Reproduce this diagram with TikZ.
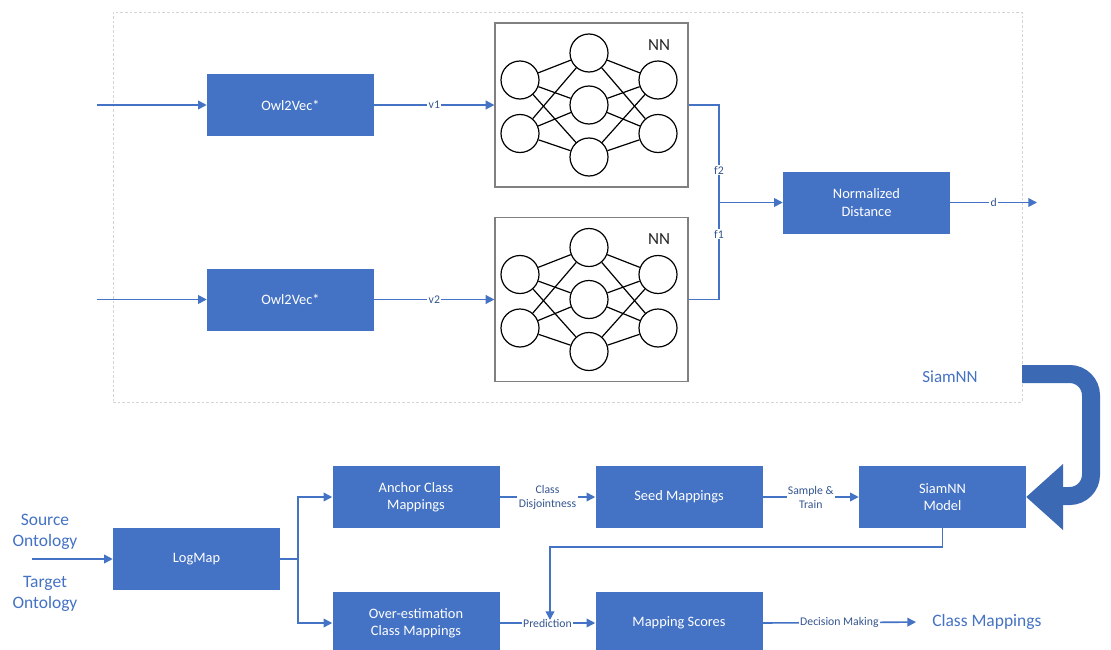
\documentclass[tikz,border=0pt]{standalone}
\usepackage{fontspec}
\setmainfont{Carlito}
\usetikzlibrary{arrows.meta,calc}

\definecolor{boxblue}{HTML}{4472C4}
\definecolor{linkblue}{HTML}{4472C4}
\definecolor{labelblue}{HTML}{34558F}
\definecolor{uturnblue}{HTML}{3C69B4}
\definecolor{framegray}{HTML}{D4D4D4}

\tikzset{
  procbox/.style={fill=boxblue, draw=none, text=white, minimum width=125.25pt,
    minimum height=46.5pt, inner sep=0pt, align=center,
    font=\fontsize{10.8}{13}\selectfont},
  link/.style={draw=linkblue, line width=1.2pt, -{Triangle[length=6.5pt,width=6.5pt]}},
  plainlink/.style={draw=linkblue, line width=1.2pt},
  linklabel/.style={fill=white, text=labelblue, inner xsep=1pt, inner ysep=0.5pt,
    align=center, font=\fontsize{8.8}{10.5}\selectfont},
  nnbox/.style={draw=black!50, line width=0.9pt, minimum width=144.75pt,
    minimum height=123pt, inner sep=0pt},
  neuron/.style={circle, draw=black, line width=0.9pt, minimum size=28.5pt, inner sep=0pt},
  synapse/.style={draw=black, line width=0.9pt},
  bigtext/.style={text=boxblue, align=center, inner sep=0pt,
    font=\fontsize{13.1}{15.8}\selectfont},
}

% A small fully connected network (2-3-2) inside a framed panel
\newcommand\nnpanel[2]{%
  \node[nnbox] (#1) at (591.5,#2) {};
  \node[neuron] (#1-a1) at (520,#2-25) {};
  \node[neuron] (#1-a2) at (520,#2+28.5) {};
  \node[neuron] (#1-b1) at (589,#2-52) {};
  \node[neuron] (#1-b2) at (589,#2) {};
  \node[neuron] (#1-b3) at (589,#2+52) {};
  \node[neuron] (#1-c1) at (658,#2-25) {};
  \node[neuron] (#1-c2) at (658,#2+28.5) {};
  \foreach \i in {1,2}{\foreach \j in {1,2,3}{
    \draw[synapse] (#1-a\i) -- (#1-b\j);
    \draw[synapse] (#1-b\j) -- (#1-c\i);}}
  \node[font=\fontsize{12.75}{14}\selectfont, text=black!85] (#1-label) at (659,#2-60) {NN};
}

\begin{document}
\begin{tikzpicture}[x=0.75pt, y=-0.75pt]
\useasboundingbox (0,0) rectangle (1111,650);
\clip (0,0) rectangle (1111,650);
\fill[white] (0,0) rectangle (1111,650);

% ---------- Siamese network panel ----------
\node[draw=framegray, dash pattern=on 2pt off 1.5pt, line width=0.6pt,
      minimum width=681.75pt, minimum height=292.5pt, inner sep=0pt] (frame) at (567.5,207) {};

\node[procbox] (owl1) at (290.5,105) {Owl2Vec*};
\node[procbox] (owl2) at (290.5,299.5) {Owl2Vec*};
\nnpanel{nn1}{105}
\nnpanel{nn2}{299.5}
\node[procbox] (norm) at (866.5,202.5) {Normalized\\Distance};
\node[bigtext, font=\fontsize{12.75}{15}\selectfont] (siamlabel) at (950,377) {SiamNN};

\coordinate (in1) at (97,105);
\coordinate (in2) at (97,299.5);
\coordinate (fork) at (719,202.5);
\coordinate (dout) at (1037,202.5);

\draw[link] (in1) -- (owl1.west);
\draw[link] (in2) -- (owl2.west);
\draw[link] (owl1.east) -- node[linklabel] {v1} (nn1.west);
\draw[link] (owl2.east) -- node[linklabel] {v2} (nn2.west);
\draw[plainlink] (nn1.east) -| (fork);
\draw[plainlink] (nn2.east) -| (fork);
\node[linklabel] (f2) at (719,170) {f2};
\node[linklabel] (f1) at (719,234) {f1};
\draw[link] (fork) -- (norm.west);
\draw[link] (norm.east) -- node[linklabel] {d} (dout);

% ---------- Matching pipeline ----------
\node[bigtext] (src) at (45,532) {Source\\Ontology};
\node[bigtext] (tgt) at (45,594) {Target\\Ontology};
\coordinate (srcin) at (32,559);
\node[procbox] (logmap) at (196.5,559) {LogMap};
\node[procbox] (anchor) at (416,497) {Anchor Class\\Mappings};
\node[procbox] (over) at (416,623) {Over-estimation\\Class Mappings};
\node[procbox] (seed) at (679,497) {Seed Mappings};
\node[procbox] (model) at (942.5,497) {SiamNN\\Model};
\node[procbox] (scores) at (679,623) {Mapping Scores};
\node[bigtext, anchor=west] (result) at (932,622) {Class Mappings};

\draw[link] (srcin) -- (logmap.west);
\draw[link] (logmap.east) -- ++(18,0) |- (anchor.west);
\draw[link] (logmap.east) -- ++(18,0) |- (over.west);
\draw[link] (anchor.east) -- node[linklabel] {Class\\Disjointness} (seed.west);
\draw[link] (seed.east) -- node[linklabel] {Sample \&\\Train} (model.west);
\draw[link] (over.east) -- node[linklabel] (pred) {Prediction} (scores.west);
\coordinate (predtip) at (550,620);
\draw[link] (model.south) -- ++(0,19) -| (predtip);
\draw[link, shorten >=12pt] (scores.east) -- node[linklabel, xshift=-6pt] {Decision Making} (result.west);

% ---------- U-turn arrow feeding the trained model ----------
\coordinate (ustart) at (1022,374);
\draw[draw=uturnblue, line width=13.5pt, rounded corners=16pt]
  (ustart) -- (1091,374) -- (1091,496) -- (1062,496);
\fill[uturnblue] (1063,464) -- (model.east) -- (1063,530) -- cycle;
\end{tikzpicture}
\end{document}
